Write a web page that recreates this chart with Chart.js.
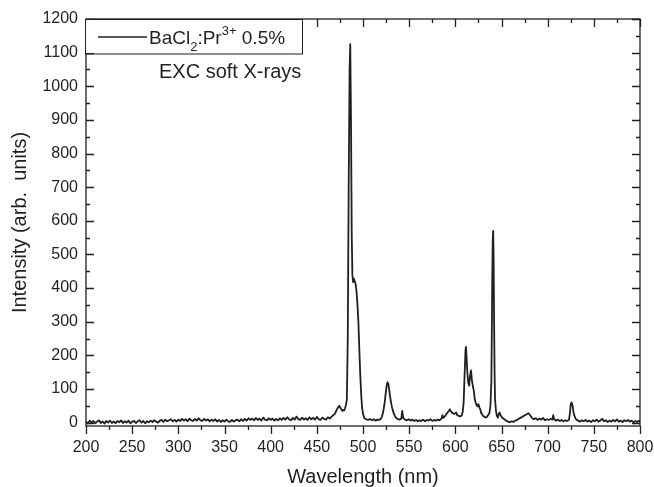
<!DOCTYPE html>
<html>
<head>
<meta charset="utf-8">
<script src="https://cdn.jsdelivr.net/npm/chart.js@4.4.0/dist/chart.umd.min.js"></script>
<style>
	body { margin: 0; background: #ffffff; }
	#contenedor { width: 654px; height: 487px; }
</style>
</head>
<body>
<div id="contenedor"><canvas id="espectro" width="654" height="487"></canvas></div>
<script>
var tinta = "#231f20";
var fuente = '"Liberation Sans", Arial, sans-serif';

var ticksX = [200, 250, 300, 350, 400, 450, 500, 550, 600, 650, 700, 750, 800];
var ticksY = [0, 100, 200, 300, 400, 500, 600, 700, 800, 900, 1000, 1100, 1200];

var longitudOnda = [
	200, 202, 204, 206, 208, 210, 212, 214, 216, 218,
	220, 222, 224, 226, 228, 230, 232, 234, 236, 238,
	240, 242, 244, 246, 248, 250, 252, 254, 256, 258,
	260, 262, 264, 266, 268, 270, 272, 274, 276, 278,
	280, 282, 284, 286, 288, 290, 292, 294, 296, 298,
	300, 302, 304, 306, 308, 310, 312, 314, 316, 318,
	320, 322, 324, 326, 328, 330, 332, 334, 336, 338,
	340, 342, 344, 346, 348, 350, 352, 354, 356, 358,
	360, 362, 364, 366, 368, 370, 372, 374, 376, 378,
	380, 382, 384, 386, 388, 390, 392, 394, 396, 398,
	400, 402, 404, 406, 408, 410, 412, 414, 416, 418,
	420, 422, 424, 426, 428, 430, 432, 434, 436, 438,
	440, 442, 444, 446, 448, 450, 452, 454, 456, 458,
	460, 462, 464, 466, 469.5, 471.5, 473.5, 474.5, 475.5, 476.5,
	477.5, 478.5, 479.5, 480.5, 481.5, 482.5, 483.5, 484.5, 485.5, 486.2,
	487, 487.8, 488.5, 489.3, 490.2, 491, 492, 493, 494, 495,
	496, 497, 498, 499, 500, 501.5, 503.5, 505.5, 507.5, 509.5,
	511.5, 513.5, 515.5, 517.5, 519.5, 520.5, 521.5, 522.5, 523.5, 524.5,
	525.5, 526.5, 527.5, 528.5, 529.5, 530.5, 531.5, 532.5, 533.5, 534.5,
	535.5, 537.5, 539.5, 541.5, 542.5, 543.5, 545.5, 547.5, 549.5, 551.5,
	553.5, 555.5, 557.5, 559.5, 561, 563, 565, 567, 569, 571,
	573, 575, 577, 579, 581, 583, 585, 586, 587, 589,
	591, 593, 594, 595, 597, 599, 601, 602, 603, 605,
	607, 608, 609, 610, 611, 611.5, 612, 613, 614, 615,
	616, 617, 618, 619, 620, 621, 622, 623, 624, 625,
	626, 627, 628, 629, 630, 631, 632, 633, 634, 635,
	636, 637, 638, 639, 639.5, 640, 640.5, 641, 641.5, 642,
	642.5, 643, 644, 645, 646, 647, 648, 649, 651, 653,
	655, 657, 659, 661, 663, 665, 667, 669, 671, 673,
	675, 677, 679, 681, 683, 685, 687, 689, 691, 693,
	695, 697, 699, 701, 703, 705, 706, 707, 709, 711,
	713, 715, 717, 719, 721, 723, 724, 725, 726, 727,
	728, 729, 730, 731, 733, 735, 737, 739, 741, 743,
	745, 747, 749, 751, 753, 755, 757, 759, 761, 763,
	765, 767, 769, 771, 773, 775, 777, 779, 781, 783,
	785, 787, 789, 791, 793, 795, 797, 799, 800
];

var intensidad = [
	4, -3, 6, 0, 5, -2, 3, 7, -1, 4,
	-3, 5, 0, 6, -1, 4, -2, 5, 1, 7,
	-1, 4, 0, 6, -2, 3, 5, -1, 4, 7,
	0, 5, -2, 4, 1, 6, 2, 7, 3, 0,
	6, 8, 2, 9, 4, 7, 10, 4, 8, 3,
	9, 5, 11, 6, 10, 4, 12, 7, 5, 11,
	6, 13, 7, 5, 11, 6, 10, 4, 9, 5,
	10, 3, 8, 2, 7, 3, 9, 4, 2, 8,
	3, 7, 9, 4, 10, 5, 11, 6, 13, 8,
	12, 7, 14, 8, 12, 6, 15, 9, 7, 13,
	8, 12, 6, 11, 7, 13, 8, 14, 9, 16,
	10, 7, 14, 9, 18, 10, 8, 15, 9, 13,
	8, 16, 10, 14, 9, 17, 10, 8, 15, 11,
	9, 16, 12, 18, 26, 38, 47, 50, 44, 40,
	35, 38, 36, 42, 52, 68, 250, 700, 1050, 1125,
	900, 560, 440, 418, 428, 420, 412, 390, 350, 300,
	220, 145, 85, 45, 26, 13, 10, 8, 11, 7,
	10, 6, 9, 8, 12, 18, 28, 42, 60, 85,
	108, 120, 115, 95, 75, 58, 45, 35, 26, 20,
	15, 11, 9, 12, 35, 14, 9, 7, 10, 6,
	9, 5, 8, 4, 7, 5, 9, 4, 8, 6,
	10, 5, 8, 6, 9, 7, 12, 22, 14, 20,
	28, 35, 40, 34, 28, 26, 30, 22, 21, 18,
	22, 32, 60, 140, 215, 225, 205, 150, 118, 110,
	140, 155, 125, 108, 95, 70, 60, 52, 48, 55,
	45, 40, 28, 25, 20, 18, 16, 15, 17, 20,
	24, 30, 50, 120, 260, 430, 540, 570, 480, 300,
	150, 70, 35, 20, 15, 26, 30, 22, 14, 10,
	6, 3, 1, 4, 2, 6, 8, 12, 15, 18,
	22, 24, 28, 22, 14, 10, 13, 8, 12, 9,
	14, 7, 10, 8, 11, 9, 22, 10, 6, 9,
	5, 8, 4, 7, 5, 8, 25, 55, 60, 50,
	30, 20, 14, 9, 6, 3, 7, 4, 8, 3,
	6, 2, 7, 4, 9, 3, 6, 12, 4, 7,
	2, 6, 3, 8, 4, 10, 3, 6, 2, 7,
	4, 8, 3, 6, 1, 5, 2, 6, 3
];

var puntos = longitudOnda.map(function(w, i) { return {x: w, y: intensidad[i]}; });

function fijaTicks(lista)
{
	return function(escala) {
		escala.ticks = lista.map(function(v) { return {value: v}; });
	};
}

function ajustaX(s)
{
	s.height = 61;
	s.paddingLeft = 0;
	s.paddingRight = 0;
}

function ajustaY(s)
{
	s.width = 86;
	s.paddingTop = 0;
	s.paddingBottom = 0;
}

// marco y marcas de escala (hacia dentro, abajo hacia fuera)
var marcoPlugin = {
	id: 'marco',
	afterDatasetsDraw: function(chart) {
		var ctx = chart.ctx;
		var a = chart.chartArea;
		var x = chart.scales.x;
		var y = chart.scales.y;
		ctx.save();
		ctx.strokeStyle = tinta;
		ctx.lineWidth = 1.3;
		ctx.strokeRect(a.left, a.top, a.right - a.left, a.bottom - a.top);
		ctx.beginPath();
		for(var v = 200; v <= 800; v += 25)
		{
			var px = Math.round(x.getPixelForValue(v)) + 0.5;
			var largo = (v % 50 == 0) ? 8 : 4;
			ctx.moveTo(px, a.bottom); ctx.lineTo(px, a.bottom + largo);
			ctx.moveTo(px, a.top); ctx.lineTo(px, a.top + largo);
		}
		for(var w = 0; w <= 1200; w += 50)
		{
			var py = Math.round(y.getPixelForValue(w)) + 0.5;
			var l2 = (w % 100 == 0) ? 8 : 4;
			ctx.moveTo(a.left, py); ctx.lineTo(a.left + l2, py);
			ctx.moveTo(a.right, py); ctx.lineTo(a.right - l2, py);
		}
		ctx.stroke();
		ctx.restore();
	}
};

function texto(ctx, t, x, y, tam)
{
	ctx.font = tam + "px " + fuente;
	ctx.fillText(t, x, y);
	return x + ctx.measureText(t).width;
}

var leyendaPlugin = {
	id: 'leyenda',
	afterDraw: function(chart) {
		var ctx = chart.ctx;
		ctx.save();
		ctx.fillStyle = "#ffffff";
		ctx.fillRect(86, 20, 216, 33);
		ctx.strokeStyle = tinta;
		ctx.lineWidth = 1;
		ctx.strokeRect(85.5, 19.5, 217, 34.5);
		ctx.lineWidth = 1.6;
		ctx.beginPath();
		ctx.moveTo(98, 37);
		ctx.lineTo(147, 37);
		ctx.stroke();
		ctx.fillStyle = tinta;
		ctx.textBaseline = "alphabetic";
		var px = texto(ctx, "BaCl", 149, 44, 19);
		px = texto(ctx, "2", px, 51, 13);
		px = texto(ctx, ":Pr", px, 44, 19);
		px = texto(ctx, "3+", px, 35, 13);
		texto(ctx, " 0.5%", px, 44, 19);
		texto(ctx, "EXC soft X-rays", 159, 78, 20);
		ctx.restore();
	}
};

new Chart(document.getElementById("espectro"), {
	type: 'line',
	data: {
		datasets: [{
			data: puntos,
			borderColor: tinta,
			borderWidth: 1.8,
			borderJoinStyle: 'round',
			pointRadius: 0,
			// tension minima: evita el trazado rapido por columnas de pixel
			tension: 0.001,
			fill: false
		}]
	},
	options: {
		responsive: false,
		animation: false,
		devicePixelRatio: 1,
		layout: { padding: { top: 19, right: 14, left: 0, bottom: 0 } },
		plugins: { legend: { display: false }, tooltip: { enabled: false } },
		scales: {
			x: {
				type: 'linear',
				min: 200,
				max: 800,
				afterBuildTicks: fijaTicks(ticksX),
				afterFit: ajustaX,
				grid: { display: false, drawTicks: false },
				border: { display: false },
				ticks: { color: tinta, padding: 12, maxRotation: 0, autoSkip: false, font: { family: fuente, size: 16 },
					callback: function(v) { return String(v); } },
				title: { display: true, text: "Wavelength (nm)", color: tinta, padding: { top: 0, bottom: 0 }, font: { family: fuente, size: 20, lineHeight: 1 } }
			},
			y: {
				min: -10,
				max: 1200,
				afterBuildTicks: fijaTicks(ticksY),
				afterFit: ajustaY,
				grid: { display: false, drawTicks: false },
				border: { display: false },
				ticks: { color: tinta, padding: 8, autoSkip: false, font: { family: fuente, size: 16 },
					callback: function(v) { return String(v); } },
				title: { display: true, text: "Intensity (arb.  units)", color: tinta, padding: { top: 10, bottom: 0 }, font: { family: fuente, size: 20, lineHeight: 1 } }
			}
		}
	},
	plugins: [marcoPlugin, leyendaPlugin]
});
</script>
</body>
</html>
